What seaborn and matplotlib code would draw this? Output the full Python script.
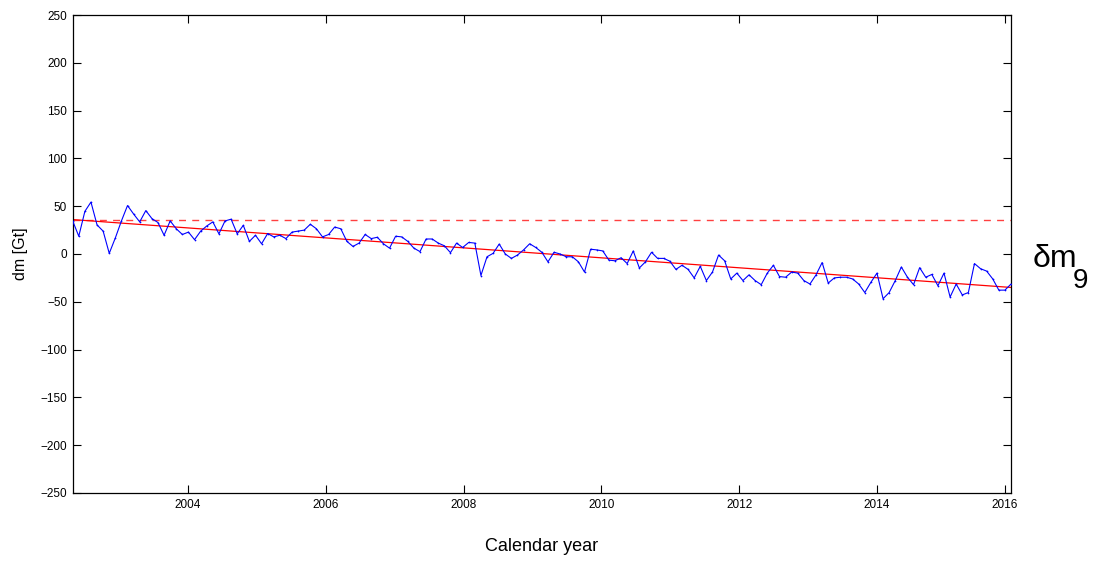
import numpy as np
import pandas as pd
import matplotlib
matplotlib.use("Agg")
import matplotlib.pyplot as plt
import seaborn as sns

# Monthly mass anomaly (Gt), in time order
dm = [34.6, 18.6, 44.6, 54.3, 30.4, 23.9, 0.7, 16.8, 34.6, 50.7, 41.8, 33.6,
      45.4, 37.1, 32.9, 19.6, 34.6, 26.4, 20.4, 22.9, 15.0, 23.9, 29.3, 33.6,
      21.1, 34.6, 36.4, 21.1, 30.0, 13.2, 19.6, 10.7, 21.4, 17.9, 19.6, 16.1,
      22.9, 23.9, 25.0, 31.1, 26.4, 17.9, 20.4, 28.2, 26.4, 13.2, 7.9, 11.4,
      20.4, 16.1, 17.5, 10.7, 6.1, 18.6, 17.9, 13.2, 6.1, 2.5, 15.7, 15.7,
      11.4, 8.6, 1.4, 11.4, 6.8, 12.1, 11.4, -22.5, -2.9, 0.7, 10.4, 0.0,
      -4.6, -1.1, 4.3, 10.7, 6.8, 1.8, -8.2, 1.8, 0.0, -2.9, -2.9, -8.2,
      -18.9, 5.0, 4.3, 3.2, -6.4, -7.1, -3.9, -10.0, 3.2, -14.6, -8.2, 1.8,
      -4.6, -4.6, -7.5, -16.1, -11.8, -16.1, -25.0, -12.9, -27.8, -18.9, -1.1, -7.1,
      -26.1, -20.0, -27.8, -21.8, -27.8, -32.1, -20.0, -11.8, -23.6, -24.3, -18.9, -20.0,
      -27.8, -31.4, -21.8, -8.9, -30.4, -25.0, -24.3, -24.3, -26.1, -31.4, -40.3, -29.6,
      -20.0, -46.8, -40.3, -27.8, -13.6, -24.3, -32.1, -14.3, -24.3, -21.4, -33.2, -20.0,
      -45.0, -31.4, -42.8, -40.3, -10.0, -15.4, -17.9, -26.1, -37.8, -37.8, -31.4]

# Time span of the series (decimal years)
t_start, t_end = 2002.327, 2015.945

# Linear trend end values and the reference level (Gt)
trend_vals = [36.0, -35.0]
ref_level = 36.0

# Axis ticks
x_ticks = [2004, 2006, 2008, 2010, 2012, 2014, 2015.857]
x_labels = ["2004", "2006", "2008", "2010", "2012", "2014", "2016"]
y_ticks = list(range(-250, 251, 50))

epochs = np.linspace(t_start, t_end, len(dm))
df = pd.DataFrame({"year": epochs, "dm": dm})
trend = pd.DataFrame({"year": [t_start, t_end], "dm": trend_vals})

sns.set_style("ticks")
plt.rcParams["font.family"] = ["Liberation Sans", "DejaVu Sans"]
plt.rcParams["text.color"] = "black"
plt.rcParams["axes.labelcolor"] = "black"

fig = plt.figure(figsize=(10.93, 5.62), dpi=100)
ax = fig.add_axes([0.0665, 0.1228, 0.8585, 0.8505])

sns.lineplot(data=df, x="year", y="dm", ax=ax, color="#0000ff", lw=0.8,
             marker=".", markersize=2.5, markeredgewidth=0, zorder=3)
sns.lineplot(data=trend, x="year", y="dm", ax=ax, color="#ff0000", lw=0.9, zorder=2)
ax.axhline(ref_level, color="#ff0000", lw=1.0, ls=(0, (5, 4.5)), alpha=0.75, zorder=2)

ax.set_xlim(t_start, t_end)
ax.set_ylim(-250, 250)
ax.set_xticks(x_ticks)
ax.set_xticklabels(x_labels)
ax.set_yticks(y_ticks)
ax.set_yticklabels([f"{v}".replace("-", "\u2212") for v in y_ticks])

for s in ax.spines.values():
    s.set_visible(True)
    s.set_linewidth(0.9)
    s.set_color("black")
ax.tick_params(direction="in", length=6, width=0.8, top=True, right=True,
               labelsize=8.5, pad=4, colors="black", labelcolor="black")

ax.set_xlabel("Calendar year", fontsize=13, color="black")
ax.xaxis.set_label_coords(0.5, -0.113)
ax.xaxis.label.set_va("center")
ax.set_ylabel("dm [Gt]", fontsize=11.5, color="black")
ax.yaxis.set_label_coords(-0.056, 0.5)
ax.yaxis.label.set_va("center")

# Panel tag: delta m with subscript 9
fig.text(0.945, 1 - 267 / 562, "\u03b4m", fontsize=23, ha="left",
         va="baseline", color="black")
fig.text(0.9815, 1 - 288 / 562, "9", fontsize=20, ha="left",
         va="baseline", color="black")

fig.savefig("out.png", dpi=100, facecolor="white")
